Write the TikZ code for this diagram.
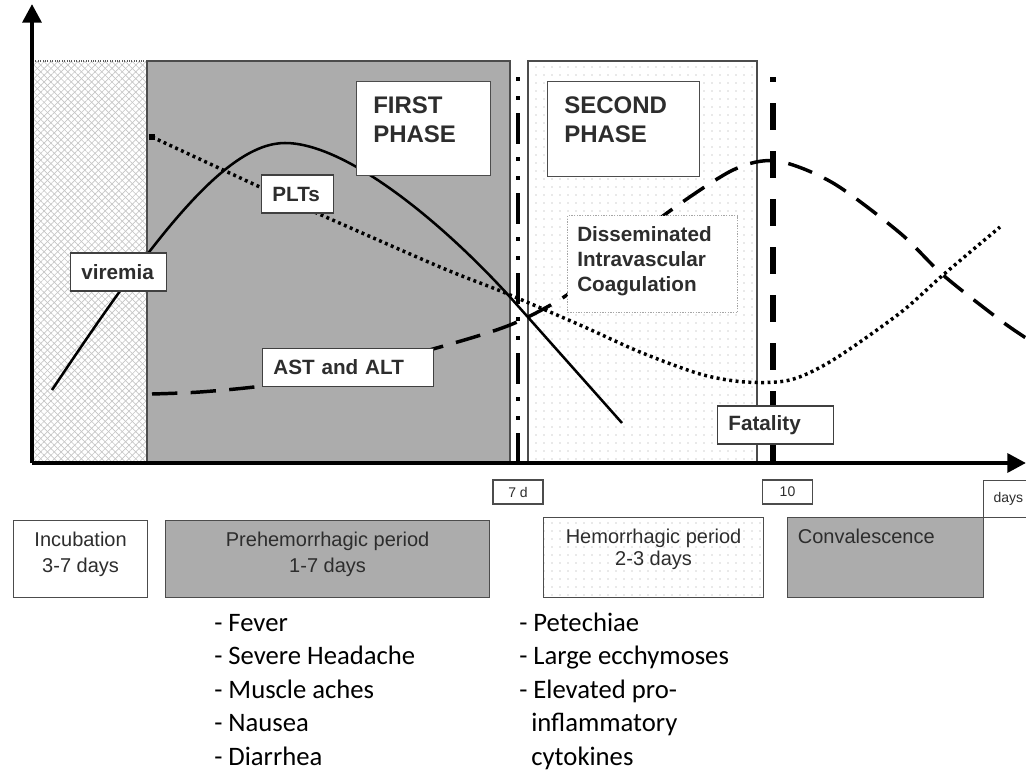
\documentclass[tikz,border=0pt]{standalone}
\usepackage{fontspec}
\setmainfont{Liberation Sans}
\newfontfamily\listfont{Carlito}
\usetikzlibrary{arrows.meta,patterns.meta,positioning}
\definecolor{phasegray}{RGB}{172,172,172}
\definecolor{inkgray}{RGB}{45,45,45}

\begin{document}
\begin{tikzpicture}[x=0.75pt,y=-0.75pt,
    axisline/.style={line width=3.2pt},
    labelbox/.style={draw=black!75,fill=white,line width=1.1pt,text width=#1,align=left,inner xsep=8pt,inner ysep=0pt,minimum height=28.5pt,font=\bfseries\fontsize{15.5}{18}\selectfont,text=inkgray},
    phasebox/.style={draw=black!70,fill=white,line width=1.1pt,inner sep=0pt},
    phasetext/.style={align=left,inner sep=0pt,font=\bfseries\fontsize{18}{22}\selectfont,text=inkgray},
    dicbox/.style={draw=gray!70,densely dotted,fill=white,line width=1pt,inner sep=0pt},
    periodbox/.style={draw=black!70,line width=0.9pt,inner sep=0pt},
    periodtext/.style={align=center,inner sep=0pt,font=\fontsize{15}{19}\selectfont,text=inkgray},
    tickbox/.style={draw=black!70,fill=white,line width=0.9pt,minimum width=37.5pt,minimum height=18pt,inner sep=0pt,font=\fontsize{10.5}{12}\selectfont,text=inkgray},
    listtext/.style={anchor=base west,inner sep=0pt,font=\listfont\fontsize{20}{25}\selectfont},
    virusline/.style={line width=1.9pt},
    pltline/.style={line width=2.6pt,dash pattern=on 2.2pt off 2.6pt},
    enzymeline/.style={line width=2.6pt,dash pattern=on 19pt off 10pt},
    sevenline/.style={line width=3pt,dash pattern=on 3pt off 11.25pt on 3pt off 9.75pt on 23.25pt off 9.75pt},
    tenline/.style={line width=4.6pt,dash pattern=on 20.5pt off 15.5pt,dash phase=16.5pt}]
    \useasboundingbox (0,0) rectangle (1026,771);
    % incubation, first and second phase backgrounds
    \fill[white] (32,61) rectangle (147,463);
    \fill[pattern={Lines[angle=45,distance=3.6pt,line width=0.5pt]},pattern color=gray!45] (32,61) rectangle (147,463);
    \fill[pattern={Lines[angle=-45,distance=3.6pt,line width=0.5pt]},pattern color=gray!45] (32,61) rectangle (147,463);
    \draw[gray!70!black,densely dotted,line width=0.8pt] (32,61) rectangle (147,463);
    \draw[fill=phasegray,draw=gray!60!black,line width=0.8pt] (147,61) rectangle (510,463);
    \draw[draw=gray!60!black,line width=0.8pt,pattern={Dots[distance=6pt,radius=0.55pt]},pattern color=gray!75] (528,61) rectangle (757,463);
    % day 7 and day 10 markers
    \coordinate (sevtop) at (518,77);
    \coordinate (sevbot) at (518,463);
    \coordinate (tentop) at (773,77);
    \coordinate (tenbot) at (773,463);
    \draw[sevenline] (sevtop) -- (sevbot);
    \draw[tenline] (tentop) -- (tenbot);
    % curves
    \draw[virusline] (52,390) .. controls (152,240) and (225,143) .. (285,143) .. controls (345,143) and (440,220) .. (510,297) -- (622,423);
    \draw[pltline] plot[smooth] coordinates {(152,137) (262,188) (310,210) (440,267) (503,292) (580,325) (640,352) (700,374) (745,382) (790,380) (833,360) (900,313) (943,275) (1000,227)};
    \fill (149,134) rectangle (155,140);
    \draw[enzymeline] plot[smooth] coordinates {(152,394) (200,392) (262,386) (340,373) (433,349) (510,325) (567,295) (620,252) (667,213) (733,170) (777,161) (833,183) (900,233) (943,275) (1000,320) (1026,338)};
    % curve labels
    \node[labelbox=56pt,anchor=west] (viremia) at (70,272) {viremia};
    \node[labelbox=38pt,anchor=west] (plts) at (261,194) {PLTs};
    \node[labelbox=112.25pt,anchor=west] (astalt) at (262,367.5) {AST and ALT};
    \node[labelbox=71pt,anchor=west] (fatality) at (717,425) {Fatality};
    % phase titles
    \node[phasebox,minimum width=100.5pt,minimum height=70.5pt,anchor=north west] (firstbox) at (356,81) {};
    \node[phasetext,below right=11.25pt and 12.75pt of firstbox.north west] (firsttxt) {FIRST\\PHASE};
    \node[phasebox,minimum width=114pt,minimum height=71.25pt,anchor=north west] (secondbox) at (547,81) {};
    \node[phasetext,below right=11.25pt and 12.75pt of secondbox.north west] (secondtxt) {SECOND\\PHASE};
    \node[dicbox,minimum width=127.5pt,minimum height=72.75pt,anchor=north west] (dicbox) at (567,215) {};
    \node[phasetext,font=\bfseries\fontsize{15.5}{18.75}\selectfont,below right=8.25pt and 7.5pt of dicbox.north west] (dictxt) {Disseminated\\Intravascular\\Coagulation};
    % axes
    \coordinate (origin) at (32,463);
    \coordinate (ytip) at (32,4);
    \coordinate (xtip) at (1026,463);
    \draw[axisline,-{Triangle[length=14pt,width=14pt]}] (origin) -- (ytip);
    \draw[axisline,-{Triangle[length=14pt,width=14pt]}] (origin) -- (xtip);
    % day ticks
    \node[tickbox] (sevenday) at (518,492) {7 d};
    \node[tickbox] (tenday) at (787.5,492) {10};
    \node[tickbox,anchor=north west,minimum height=27.75pt,text width=32pt,inner xsep=7.5pt,align=left] (daysbox) at (983,480) {days};
    % periods
    \node[periodbox,fill=white,minimum width=100.5pt,minimum height=57.75pt,anchor=north west] (incubbox) at (13,520) {};
    \node[periodtext,below=9pt of incubbox.north] (incubtxt) {Incubation\\3-7 days};
    \node[periodbox,fill=phasegray,minimum width=243pt,minimum height=57.75pt,anchor=north west] (prehembox) at (165,520) {};
    \node[periodtext,below=9pt of prehembox.north] (prehemtxt) {Prehemorrhagic period\\1-7 days};
    \node[periodbox,pattern={Dots[distance=6pt,radius=0.55pt]},pattern color=gray!75,minimum width=165pt,minimum height=60pt,anchor=north west] (hemorbox) at (543,517) {};
    \node[periodtext,font=\fontsize{15}{16}\selectfont,below=9pt of hemorbox.north] (hemortxt) {Hemorrhagic period\\2-3 days};
    \node[periodbox,fill=phasegray,minimum width=147pt,minimum height=60pt,anchor=north west] (convalbox) at (787,517) {};
    \node[periodtext,below right=9pt and 8pt of convalbox.north west] (convaltxt) {Convalescence};
    % symptoms
    \foreach \sym [count=\i] in {Fever,Severe Headache,Muscle aches,Nausea,Diarrhea}
      \node[listtext] (prehemsym\i) at (214,{631+33.5*(\i-1)}) {- \sym};
    \node[listtext] (hemorsym1) at (519,631) {- Petechiae};
    \node[listtext] (hemorsym2) at (519,664.5) {- Large ecchymoses};
    \node[listtext] (hemorsym3) at (519,698) {- Elevated pro-};
    \node[listtext] (hemorsym4) at (531,731.5) {inflammatory};
    \node[listtext] (hemorsym5) at (531,765) {cytokines};
\end{tikzpicture}
\end{document}
